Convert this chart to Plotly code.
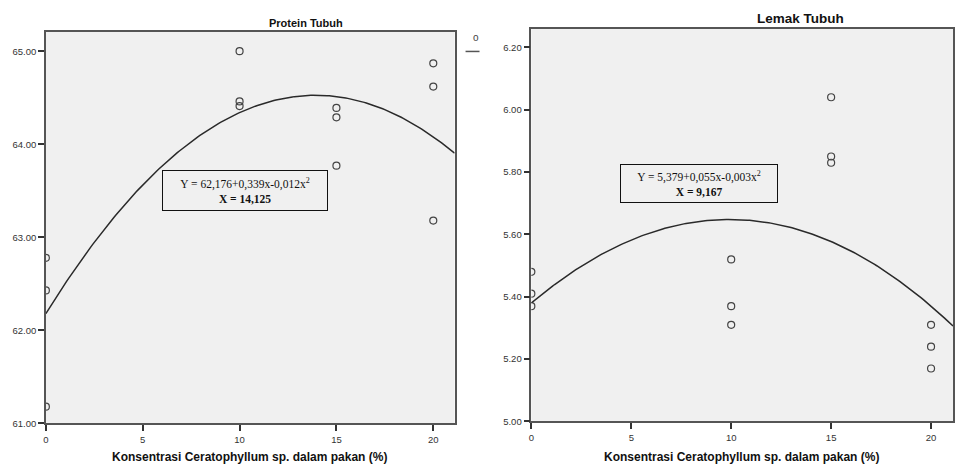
import numpy as np
import plotly.graph_objects as go

# ---- data ----
x_conc = [0, 0, 0, 10, 10, 10, 15, 15, 15, 20, 20, 20]
protein = [62.78, 62.43, 61.18, 65.00, 64.46, 64.41, 64.39, 64.29, 63.77, 64.87, 64.62, 63.18]
lemak = [5.48, 5.41, 5.37, 5.52, 5.37, 5.31, 6.04, 5.85, 5.83, 5.31, 5.24, 5.17]
# quadratic fit coefficients as drawn
protein_coef = [62.18, 0.337, -0.0121]
lemak_coef = [5.380, 0.0541, -0.00273]
x_ticks = [0, 5, 10, 15, 20]
protein_ticks = [61.0, 62.0, 63.0, 64.0, 65.0]
lemak_ticks = [5.0, 5.2, 5.4, 5.6, 5.8, 6.0, 6.2]
titles = ["Protein Tubuh", "Lemak Tubuh"]
x_title = "Konsentrasi Ceratophyllum sp. dalam pakan (%)"
eq_texts = ["Y = 62,176+0,339x-0,012x<sup>2</sup><br><b>X = 14,125</b>",
            "Y = 5,379+0,055x-0,003x<sup>2</sup><br><b>X = 9,167</b>"]

W, H = 964, 472
def px(x): return x / W
def py(y): return 1 - y / H

xs = np.linspace(0, 21.1, 200)
def quad(c, x): return c[0] + c[1] * x + c[2] * x ** 2

fig = go.Figure()
pt_marker = dict(symbol="circle-open", size=7, color="#444444", line=dict(width=1.2, color="#444444"))
fig.add_trace(go.Scatter(x=x_conc, y=protein, mode="markers", marker=pt_marker, xaxis="x", yaxis="y", showlegend=False))
fig.add_trace(go.Scatter(x=xs, y=quad(protein_coef, xs), mode="lines", line=dict(color="#2a2a2a", width=1.5), xaxis="x", yaxis="y", showlegend=False))
fig.add_trace(go.Scatter(x=x_conc, y=lemak, mode="markers", marker=pt_marker, xaxis="x2", yaxis="y2", showlegend=False))
fig.add_trace(go.Scatter(x=xs, y=quad(lemak_coef, xs), mode="lines", line=dict(color="#2a2a2a", width=1.5), xaxis="x2", yaxis="y2", showlegend=False))

tickfont = dict(family="Liberation Sans, Arial", size=9.5, color="#333333")
ax_common = dict(showgrid=False, zeroline=False, showline=True, mirror=True, linecolor="#555555", linewidth=1.5,
                 ticks="outside", ticklen=6, tickwidth=1.5, tickcolor="#333333", tickfont=tickfont)

fig.update_layout(
    width=W, height=H, margin=dict(l=0, r=0, t=0, b=0),
    paper_bgcolor="white", plot_bgcolor="#f0f0f0",
    xaxis=dict(domain=[px(43), px(453)], range=[0, 21.1], tickvals=x_ticks, anchor="y", **ax_common),
    yaxis=dict(domain=[py(428), py(32)], range=[61.0, 65.21], tickvals=protein_ticks, tickformat=".2f", anchor="x", **ax_common),
    xaxis2=dict(domain=[px(530), px(953)], range=[0, 21.1], tickvals=x_ticks, anchor="y2", **ax_common),
    yaxis2=dict(domain=[py(426), py(29)], range=[5.0, 6.26], tickvals=lemak_ticks, tickformat=".2f", anchor="x2", **ax_common),
)

C = dict(xref="paper", yref="paper", showarrow=False, xanchor="center", yanchor="middle")
ann = []
ann.append(dict(text="<b>" + titles[0] + "</b>", x=px(304), y=py(23),
                font=dict(family="Liberation Sans, Arial", size=11, color="#111111"), **C))
ann.append(dict(text="<b>" + titles[1] + "</b>", x=px(800), y=py(19),
                font=dict(family="Liberation Sans, Arial", size=13.5, color="#111111"), **C))
for cx in [247, 741]:
    ann.append(dict(text="<b>" + x_title + "</b>", x=px(cx), y=py(462),
                    font=dict(family="Liberation Sans, Arial", size=12, color="#111111"), **C))
ann.append(dict(text=eq_texts[0], x=px(243), y=py(192.5),
                width=162, height=37, borderpad=1, bordercolor="#111111", borderwidth=1, bgcolor="#f0f0f0",
                align="center", font=dict(family="Liberation Serif, Times New Roman", size=11.5, color="#111111"), **C))
ann.append(dict(text=eq_texts[1], x=px(698), y=py(185.5),
                width=154, height=35, borderpad=1, bordercolor="#111111", borderwidth=1, bgcolor="#f0f0f0",
                align="center", font=dict(family="Liberation Serif, Times New Roman", size=11.5, color="#111111"), **C))
# cropped legend remnant at right of left panel
ann.append(dict(text="o", x=px(474), y=py(38),
                font=dict(family="Liberation Sans, Arial", size=10, color="#444444"), **C))
fig.update_layout(annotations=ann)
fig.add_shape(type="line", xref="paper", yref="paper", x0=px(464), x1=px(478), y0=py(52), y1=py(52),
              line=dict(color="#555555", width=1.5))

fig.write_html("out.html")
